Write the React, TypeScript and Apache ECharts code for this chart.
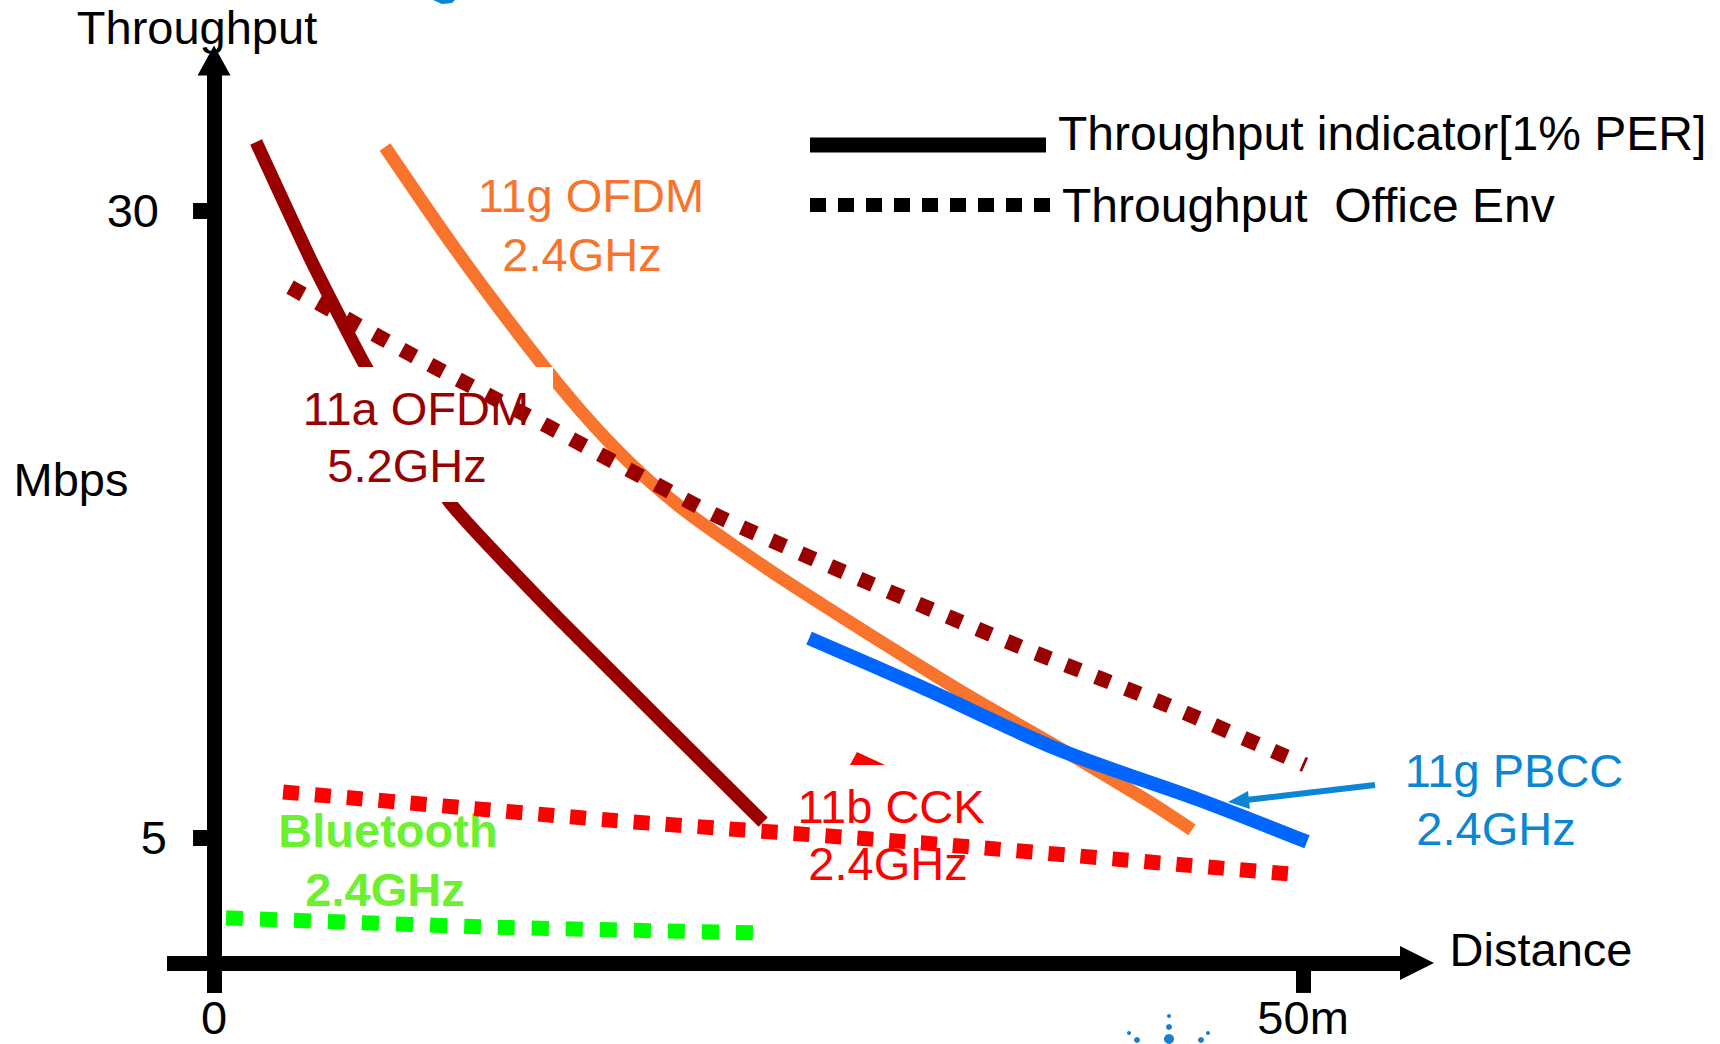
import React, { useEffect, useRef } from "react";
import * as echarts from "echarts";

// ---- data (x: distance in m, y: throughput in Mbps) ----
const ofdm11aIndicator: [number, number][] = [
  [1.93, 32.75], [4.45, 28.04], [6.98, 23.77], [10.84, 18.35], [15.89, 13.68], [25.21, 5.62],
];
const ofdm11gIndicator: [number, number][] = [
  [7.85, 32.55], [11.11, 28.44], [14.37, 24.65], [16.8, 22.06], [19.1, 19.94],
  [21.4, 18.19], [23.69, 16.75], [26.17, 15.28], [30.35, 12.96], [34.57, 10.69],
  [38.8, 8.58], [43.02, 6.38], [44.9, 5.31],
];
const pbcc11gIndicator: [number, number][] = [
  [27.32, 12.96], [32.46, 11.01], [38.8, 8.5], [45.13, 6.54], [50.18, 4.83],
];
const ofdm11aOffice: [number, number][] = [
  [3.49, 26.96], [9.09, 24.25], [15.38, 21.38], [22.91, 17.91], [30.07, 15.16],
  [36.82, 12.68], [43.53, 10.37], [50.09, 7.9],
];
const cck11bOffice: [number, number][] = [
  [3.17, 6.82], [18.14, 5.7], [32.46, 4.79], [49.36, 3.55],
];
const bluetoothOffice: [number, number][] = [
  [0.55, 1.8], [12.35, 1.44], [24.89, 1.2],
];

const yTickValues = [5, 30];
const xTickValues = [50];
const xLabelValues = [0, 50];
const legendLabels = ["Throughput indicator[1% PER]", "Throughput  Office Env"];

const FONT = '"Liberation Sans", Arial, Helvetica, sans-serif';
const FS = 47;

const DARK_RED = "#990000";
const ORANGE = "#f8742c";
const BLUE = "#0066ff";
const BLUE_TEXT = "#0a86d4";
const RED = "#ff0000";
const GREEN = "#00ff00";
const GREEN_TEXT = "#6cf030";

function txt(text: string, x: number, y: number, fill: string, opts: any = {}) {
  return {
    type: "text",
    x,
    y,
    z: opts.z ?? 6,
    silent: true,
    style: {
      text,
      fill,
      font: `${opts.bold ? "bold " : ""}${opts.size ?? FS}px ${FONT}`,
      fontSize: opts.size ?? FS,
      fontFamily: FONT,
      fontWeight: opts.bold ? "bold" : "normal",
      align: opts.align ?? "center",
      verticalAlign: "middle",
      textAlign: opts.align ?? "center",
      textVerticalAlign: "middle",
    },
  };
}

export default function App() {
  const ref = useRef<HTMLDivElement>(null);

  useEffect(() => {
    if (!ref.current) return;
    const chart = echarts.init(ref.current, undefined, { renderer: "svg" });

    const solid = (name: string, data: [number, number][], color: string, width: number, z: number, smooth: number) => ({
      name,
      type: "line",
      data,
      symbol: "none",
      showSymbol: false,
      smooth,
      z,
      silent: true,
      lineStyle: { color, width, cap: "butt", join: "round" },
    });
    const dotted = (name: string, data: [number, number][], color: string, dash: number[]) => ({
      name,
      type: "line",
      data,
      symbol: "none",
      showSymbol: false,
      smooth: 0.2,
      z: 10,
      silent: true,
      lineStyle: { color, width: 15, type: dash, cap: "butt" },
    });

    chart.setOption({
      animation: false,
      backgroundColor: "#ffffff",
      grid: {
        left: 167,
        right: 303,
        top: 60.5,
        bottom: 51,
        containLabel: false,
        outerBoundsMode: "none",
      },
      xAxis: {
        type: "value",
        min: -2.16,
        max: 55.23,
        splitLine: { show: false },
        axisLine: {
          onZero: true,
          symbol: ["none", "triangle"],
          symbolSize: [34, 34],
          lineStyle: { color: "#000", width: 15, cap: "butt" },
        },
        axisTick: {
          show: true,
          customValues: xTickValues,
          length: 30,
          lineStyle: { color: "#000", width: 15 },
        },
        axisLabel: {
          show: true,
          customValues: xLabelValues,
          margin: 6,
          color: "#000",
          fontSize: FS,
          fontFamily: FONT,
          lineHeight: 36,
          formatter: (v: number) => (v === 0 ? "0" : "50m"),
        },
      },
      yAxis: {
        type: "value",
        min: -1.2,
        max: 36,
        splitLine: { show: false },
        axisLine: {
          onZero: true,
          symbol: ["none", "triangle"],
          symbolSize: [33, 30],
          lineStyle: { color: "#000", width: 15, cap: "butt" },
        },
        axisTick: {
          show: true,
          customValues: yTickValues,
          length: 21,
          lineStyle: { color: "#000", width: 16 },
        },
        axisLabel: {
          show: true,
          customValues: yTickValues,
          margin: 0,
          color: "#000",
          fontSize: FS,
          fontFamily: FONT,
          formatter: (v: number) => (v === 30 ? "{a|30}" : "{b|5}"),
          rich: {
            a: { fontSize: FS, fontFamily: FONT, color: "#000", padding: [0, 8, 0, 0] },
            b: { fontSize: FS, fontFamily: FONT, color: "#000" },
          },
        },
      },
      series: [
        solid("11a OFDM 5.2GHz", ofdm11aIndicator, DARK_RED, 13, 2, 0.15),
        solid("11g OFDM 2.4GHz", ofdm11gIndicator, ORANGE, 13, 2, 0.3),
        solid("11g PBCC 2.4GHz", pbcc11gIndicator, BLUE, 14, 3, 0.3),
        dotted("11a OFDM office", ofdm11aOffice, DARK_RED, [15, 17]),
        dotted("11b CCK office", cck11bOffice, RED, [16, 16]),
        dotted("Bluetooth office", bluetoothOffice, GREEN, [17, 17]),
      ],
      graphic: [
        // axis names
        txt("Throughput", 197, 27, "#000"),
        txt("Mbps", 71, 479, "#000"),
        txt("Distance", 1541, 949, "#000"),
        // legend
        {
          type: "line",
          z: 6,
          silent: true,
          shape: { x1: 810, y1: 145, x2: 1046, y2: 145 },
          style: { stroke: "#000", lineWidth: 15 },
        },
        {
          type: "line",
          z: 6,
          silent: true,
          shape: { x1: 810, y1: 205, x2: 1050, y2: 205 },
          style: { stroke: "#000", lineWidth: 14, lineDash: [16, 12] },
        },
        txt(legendLabels[0], 1058, 133, "#000", { align: "left", size: 48 }),
        txt(legendLabels[1], 1062, 205, "#000", { align: "left", size: 48 }),
        // series labels
        txt("11g OFDM", 591, 195, ORANGE),
        txt("2.4GHz", 582, 254, ORANGE),
        {
          type: "rect",
          z: 5,
          silent: true,
          shape: { x: 298, y: 367, width: 255, height: 135 },
          style: { fill: "#ffffff" },
        },
        txt("11a OFDM", 416, 408, DARK_RED),
        txt("5.2GHz", 407, 465, DARK_RED),
        txt("11b CCK", 891, 806, RED),
        txt("2.4GHz", 888, 863, RED),
        txt("11g PBCC", 1514, 770, BLUE_TEXT),
        txt("2.4GHz", 1496, 828, BLUE_TEXT),
        txt("Bluetooth", 388, 830, GREEN_TEXT, { bold: true }),
        txt("2.4GHz", 385, 889, GREEN_TEXT, { bold: true }),
        // pointer arrow to PBCC curve
        {
          type: "line",
          z: 6,
          silent: true,
          shape: { x1: 1375, y1: 785, x2: 1246, y2: 800 },
          style: { stroke: BLUE_TEXT, lineWidth: 6 },
        },
        {
          type: "polygon",
          z: 6,
          silent: true,
          shape: { points: [[1228, 802], [1250, 809], [1248, 791]] },
          style: { fill: BLUE_TEXT },
        },
        // small red arrowhead fragment
        {
          type: "polygon",
          z: 6,
          silent: true,
          shape: { points: [[850, 765], [885, 765], [857, 752]] },
          style: { fill: RED },
        },
        // cropped blue fragment at top
        {
          type: "polygon",
          z: 6,
          silent: true,
          shape: { points: [[433, 0], [455, 0], [452, 3], [442, 4]] },
          style: { fill: BLUE_TEXT },
        },
        // cropped logo dots at bottom
        { type: "circle", z: 6, silent: true, shape: { cx: 1169, cy: 1016, r: 2 }, style: { fill: "#1a7fd0" } },
        { type: "circle", z: 6, silent: true, shape: { cx: 1169, cy: 1027, r: 3 }, style: { fill: "#1a7fd0" } },
        { type: "circle", z: 6, silent: true, shape: { cx: 1169, cy: 1039, r: 5 }, style: { fill: "#1a7fd0" } },
        { type: "circle", z: 6, silent: true, shape: { cx: 1129, cy: 1033, r: 2 }, style: { fill: "#1a7fd0" } },
        { type: "circle", z: 6, silent: true, shape: { cx: 1137, cy: 1040, r: 3 }, style: { fill: "#1a7fd0" } },
        { type: "circle", z: 6, silent: true, shape: { cx: 1208, cy: 1033, r: 2 }, style: { fill: "#1a7fd0" } },
        { type: "circle", z: 6, silent: true, shape: { cx: 1201, cy: 1040, r: 3 }, style: { fill: "#1a7fd0" } },
      ],
    });

    return () => chart.dispose();
  }, []);

  return (
    <div
      ref={ref}
      style={{ position: "absolute", left: 0, top: 0, width: 1720, height: 1044, background: "#fff" }}
    />
  );
}
